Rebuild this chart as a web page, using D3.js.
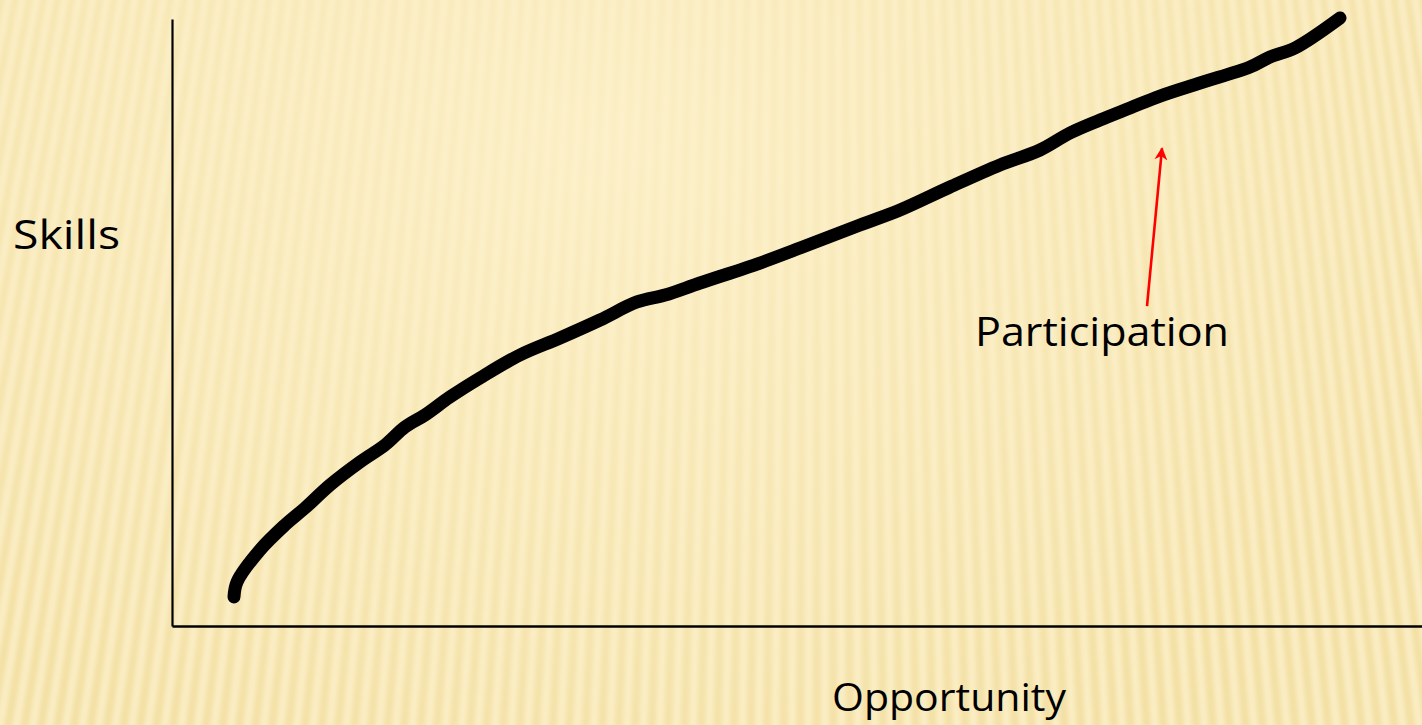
<!DOCTYPE html>
<html><head><meta charset="utf-8">
<script src="https://cdn.jsdelivr.net/npm/d3@7"></script>
<style>html,body{margin:0;padding:0;overflow:hidden;background:#f6e6b0}</style>
</head><body>
<script>
// Data
const opportunity = [4.96,5.2,7.04,9.04,10.64,12.64,15.04,17.04,18.64,20.24,22.24,24.64,27.84,31.04,34.24,37.2,39.44,42.24,47.04,50.24,55.04,58.24,62.24,66.24,69.44,71.84,74.24,76.64,79.04,82.24,86.24,87.84,89.84,93.44];
const skills = [4.78,7.25,12.52,16.64,19.44,23.23,27.02,29.82,32.78,34.76,37.73,40.86,44.65,47.45,50.41,53.38,54.53,56.51,59.8,62.27,66.06,68.53,72.32,75.95,78.42,81.22,83.36,85.34,87.31,89.46,92.09,93.74,95.22,100.16];
const xLabel = "Opportunity";
const yLabel = "Skills";
const annotation = "Participation";
const annotationFrom = [78.0, 52.7];
const annotationTo = [79.2, 78.7];

const W = 1422, H = 725;
const svg = d3.select("body").append("svg").attr("width", W).attr("height", H);
const defs = svg.append("defs");
defs.append("filter").attr("id","blur").attr("x","-10%").attr("y","-10%").attr("width","120%").attr("height","120%")
  .append("feGaussianBlur").attr("stdDeviation", 2.8);
defs.append("marker").attr("id","arr").attr("viewBox","0 0 10 10").attr("refX",9).attr("refY",5)
  .attr("markerWidth",5).attr("markerHeight",5).attr("orient","auto")
  .append("path").attr("d","M0,0 L10,5 L0,10 L3,5 Z").attr("fill","#ff0000");

// background
svg.append("rect").attr("width",W).attr("height",H).attr("fill","#f1dd9e");
const stripes = svg.append("g").attr("filter","url(#blur)");
const vx = 820, vy = -4200, period = 16.5;
for (let i = -15; i < 100; i++) {
  const xb = i * period;
  const dx = (xb - vx) / (H - vy);
  const x0 = vx + dx * (-30 - vy);
  const x1 = vx + dx * (H + 30 - vy);
  stripes.append("line").attr("x1",x0).attr("y1",-30).attr("x2",x1).attr("y2",H+30)
    .attr("stroke","#fdf1cb").attr("stroke-width",8).attr("stroke-opacity",0.9);
}
const rg = defs.append("radialGradient").attr("id","glow").attr("cx","0.42").attr("cy","0.2").attr("r","0.62")
  .attr("gradientTransform","translate(0.42,0.2) scale(1,1.5) translate(-0.42,-0.2)");
rg.append("stop").attr("offset","0").attr("stop-color","#fdf2cd").attr("stop-opacity",0.8);
rg.append("stop").attr("offset","0.55").attr("stop-color","#fcefc6").attr("stop-opacity",0.5);
rg.append("stop").attr("offset","1").attr("stop-color","#fcefc6").attr("stop-opacity",0.1);
svg.append("rect").attr("width",W).attr("height",H).attr("fill","url(#glow)");

// scales
const x = d3.scaleLinear().domain([0,100]).range([172,1422]);
const y = d3.scaleLinear().domain([0,100]).range([626,19]);

// axes (plain lines, no ticks)
const yAxis = d3.axisLeft(y).tickValues([]).tickSizeOuter(0);
const xAxis = d3.axisBottom(x).tickValues([]).tickSizeOuter(0);
svg.append("g").attr("transform","translate(172,0)").call(yAxis)
  .select(".domain").attr("stroke","#000").attr("stroke-width",2.2);
svg.append("g").attr("transform","translate(0,626)").call(xAxis)
  .select(".domain").attr("stroke","#000").attr("stroke-width",2.5);

// curve
const pts = opportunity.map((v,i)=>[v, skills[i]]);
const line = d3.line().x(d=>x(d[0])).y(d=>y(d[1])).curve(d3.curveCatmullRom);
svg.append("path").datum(pts).attr("d", line).attr("fill","none").attr("stroke","#000")
  .attr("stroke-width",13).attr("stroke-linecap","round").attr("stroke-linejoin","round");

// labels
const font = "'Open Sans', sans-serif";
function label(txt, xx, yy, len, size) {
  svg.append("text").attr("x",xx).attr("y",yy).attr("font-family",font).attr("font-size",size)
    .attr("fill","#000")
    .attr("textLength", len).attr("lengthAdjust","spacingAndGlyphs").text(txt);
}
label(yLabel, 13, 249, 107, 40);
label(xLabel, 832, 711, 234, 38);
label(annotation, 975, 346, 254, 40);

svg.append("line").attr("x1",x(annotationFrom[0])).attr("y1",y(annotationFrom[1]))
  .attr("x2",x(annotationTo[0])).attr("y2",y(annotationTo[1]))
  .attr("stroke","#ff0000").attr("stroke-width",2.6).attr("marker-end","url(#arr)");
</script>
</body></html>
